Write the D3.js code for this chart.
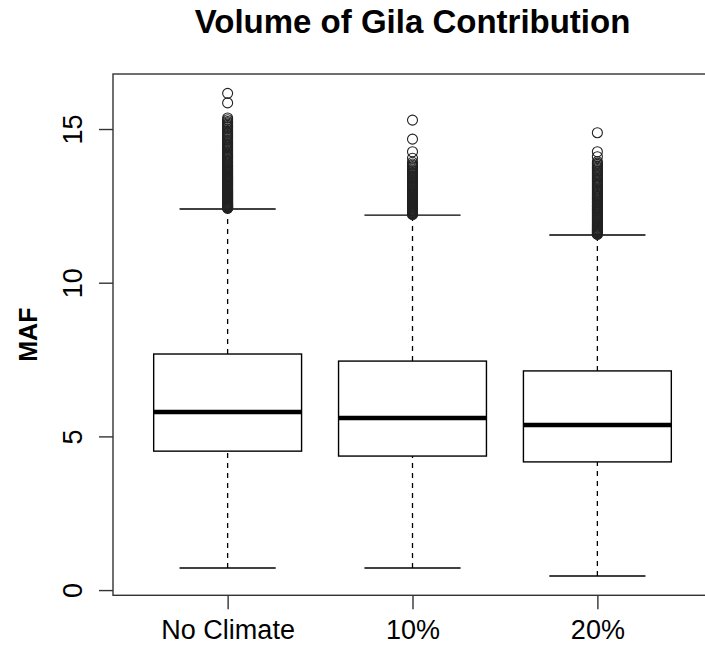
<!DOCTYPE html>
<html>
<head>
<meta charset="utf-8">
<script src="https://cdn.jsdelivr.net/npm/d3@7"></script>
<style>
  html, body { margin: 0; padding: 0; background: #fff; }
  svg { display: block; font-family: "Liberation Sans", Arial, sans-serif; }
</style>
</head>
<body>
<div id="chart"></div>
<script>
const title = "Volume of Gila Contribution";
const yLabel = "MAF";
const categories = ["No Climate", "10%", "20%"];
const whiskerLow = [0.72, 0.72, 0.46];
const q1 = [4.52, 4.36, 4.17];
const medians = [5.79, 5.60, 5.37];
const q3 = [7.68, 7.45, 7.13];
const whiskerHigh = [12.40, 12.20, 11.55];
const yTicks = [0, 5, 10, 15];
const outliersNoClimate = [16.16, 15.85, 15.36, 15.30, 15.24, 15.20, 15.16, 15.12, 15.08, 15.05, 15.00, 14.95, 14.90, 14.86, 14.82, 14.78, 14.74, 14.70, 14.65, 14.60, 14.56, 14.52, 14.48, 14.45, 14.41, 14.38, 14.34, 14.30, 14.26, 14.22, 14.18, 14.15, 14.11, 14.08, 14.04, 14.00, 13.96, 13.93, 13.90, 13.86, 13.83, 13.80, 13.77, 13.74, 13.71, 13.68, 13.65, 13.62, 13.59, 13.56, 13.53, 13.50, 13.47, 13.45, 13.42, 13.40, 13.37, 13.35, 13.32, 13.30, 13.27, 13.25, 13.22, 13.20, 13.17, 13.15, 13.12, 13.10, 13.07, 13.05, 13.02, 13.00, 12.98, 12.96, 12.94, 12.92, 12.90, 12.88, 12.86, 12.84, 12.82, 12.80, 12.78, 12.76, 12.74, 12.72, 12.70, 12.68, 12.66, 12.64, 12.62, 12.60, 12.58, 12.56, 12.54, 12.53, 12.51, 12.50, 12.48, 12.47, 12.45, 12.44, 12.43, 12.42];
const outliers10 = [15.29, 14.67, 14.26, 14.05, 13.92, 13.86, 13.82, 13.78, 13.74, 13.70, 13.66, 13.62, 13.58, 13.55, 13.52, 13.48, 13.45, 13.42, 13.39, 13.36, 13.33, 13.30, 13.27, 13.24, 13.21, 13.18, 13.15, 13.12, 13.09, 13.06, 13.03, 13.00, 12.97, 12.95, 12.92, 12.90, 12.87, 12.85, 12.82, 12.80, 12.77, 12.75, 12.72, 12.70, 12.67, 12.65, 12.62, 12.60, 12.58, 12.56, 12.54, 12.52, 12.50, 12.48, 12.46, 12.44, 12.42, 12.40, 12.38, 12.36, 12.34, 12.32, 12.30, 12.28, 12.26, 12.25, 12.23, 12.22];
const outliers20 = [14.88, 14.26, 14.10, 13.94, 13.89, 13.85, 13.80, 13.76, 13.72, 13.68, 13.64, 13.60, 13.56, 13.52, 13.48, 13.44, 13.40, 13.36, 13.32, 13.28, 13.24, 13.20, 13.16, 13.12, 13.08, 13.05, 13.01, 12.98, 12.94, 12.90, 12.87, 12.83, 12.80, 12.76, 12.73, 12.70, 12.66, 12.63, 12.60, 12.56, 12.53, 12.50, 12.47, 12.44, 12.41, 12.38, 12.35, 12.32, 12.29, 12.26, 12.23, 12.20, 12.17, 12.14, 12.11, 12.08, 12.05, 12.02, 11.99, 11.96, 11.93, 11.90, 11.87, 11.85, 11.82, 11.80, 11.77, 11.75, 11.72, 11.70, 11.68, 11.66, 11.64, 11.62, 11.60, 11.58, 11.57];
const outliers = [outliersNoClimate, outliers10, outliers20];

const W = 705, H = 645;
const plot = { left: 113, right: 712, top: 74, bottom: 595.3 };

const svg = d3.select("#chart").append("svg").attr("width", W).attr("height", H);

const x = d3.scaleLinear().domain([0.38, 3.62]).range([plot.left, plot.right]);
const y = d3.scaleLinear().domain([-0.17, 16.79]).range([plot.bottom, plot.top]);

const boxHalf = 0.4;
const stroke = "#000";

const data = categories.map((c, i) => ({
  c, i: i + 1, lo: whiskerLow[i], q1: q1[i], med: medians[i], q3: q3[i], hi: whiskerHigh[i], out: outliers[i]
}));

const g = svg.append("g");

// whiskers (dashed)
g.selectAll(".wlo").data(data).join("line")
  .attr("x1", d => x(d.i)).attr("x2", d => x(d.i))
  .attr("y1", d => y(d.lo)).attr("y2", d => y(d.q1))
  .attr("stroke", stroke).attr("stroke-width", 1.3).attr("stroke-dasharray", "5,5");
g.selectAll(".whi").data(data).join("line")
  .attr("x1", d => x(d.i)).attr("x2", d => x(d.i))
  .attr("y1", d => y(d.q3)).attr("y2", d => y(d.hi))
  .attr("stroke", stroke).attr("stroke-width", 1.3).attr("stroke-dasharray", "5,5");

// staples
const stapleHalf = 0.2 * 1.3;
["lo", "hi"].forEach(k => {
  g.selectAll(".st" + k).data(data).join("line")
    .attr("x1", d => x(d.i - stapleHalf)).attr("x2", d => x(d.i + stapleHalf))
    .attr("y1", d => y(d[k])).attr("y2", d => y(d[k]))
    .attr("stroke", stroke).attr("stroke-width", 1.4);
});

// boxes
g.selectAll(".box").data(data).join("rect")
  .attr("x", d => x(d.i - boxHalf)).attr("width", d => x(d.i + boxHalf) - x(d.i - boxHalf))
  .attr("y", d => y(d.q3)).attr("height", d => y(d.q1) - y(d.q3))
  .attr("fill", "#fff").attr("stroke", stroke).attr("stroke-width", 1.4);

// medians
g.selectAll(".med").data(data).join("line")
  .attr("x1", d => x(d.i - boxHalf)).attr("x2", d => x(d.i + boxHalf))
  .attr("y1", d => y(d.med)).attr("y2", d => y(d.med))
  .attr("stroke", stroke).attr("stroke-width", 4.5);

// outliers
data.forEach(d => {
  g.selectAll(null).data(d.out).join("circle")
    .attr("cx", x(d.i)).attr("cy", v => y(v)).attr("r", 5)
    .attr("fill", "none").attr("stroke", "#222").attr("stroke-width", 1.1);
});

// plot frame
svg.append("rect")
  .attr("x", plot.left).attr("y", plot.top)
  .attr("width", plot.right - plot.left).attr("height", plot.bottom - plot.top)
  .attr("fill", "none").attr("stroke", "#333").attr("stroke-width", 1.4);

// y axis
const yAxis = d3.axisLeft(y).tickValues(yTicks).tickSize(14).tickPadding(16).tickFormat(d3.format("d"));
const ya = svg.append("g").attr("transform", `translate(${plot.left},0)`).call(yAxis);
ya.select(".domain").remove();
ya.selectAll(".tick line").attr("stroke", "#333").attr("stroke-width", 1.4);
ya.selectAll(".tick text")
  .attr("font-size", 27).attr("fill", "#000")
  .attr("font-family", "Liberation Sans, Arial, sans-serif")
  .attr("transform", "rotate(-90)")
  .attr("x", 0).attr("y", -31).attr("dy", 0)
  .attr("text-anchor", "middle");

// x axis
const xAxis = d3.axisBottom(x).tickValues([1, 2, 3]).tickSize(14).tickPadding(10).tickFormat((d, i) => categories[i]);
const xa = svg.append("g").attr("transform", `translate(0,${plot.bottom})`).call(xAxis);
xa.select(".domain").remove();
xa.selectAll(".tick line").attr("stroke", "#333").attr("stroke-width", 1.4);
xa.selectAll(".tick text")
  .attr("font-size", 27).attr("fill", "#000")
  .attr("font-family", "Liberation Sans, Arial, sans-serif")
  .attr("y", 44).attr("dy", 0);

// title
svg.append("text")
  .attr("x", (plot.left + plot.right) / 2).attr("y", 33)
  .attr("text-anchor", "middle")
  .attr("font-size", 33).attr("font-weight", "bold")
  .text(title);

// y label
svg.append("text")
  .attr("transform", `translate(37,${(plot.top + plot.bottom) / 2}) rotate(-90)`)
  .attr("text-anchor", "middle")
  .attr("font-size", 25).attr("font-weight", "bold")
  .text(yLabel);
</script>
</body>
</html>
